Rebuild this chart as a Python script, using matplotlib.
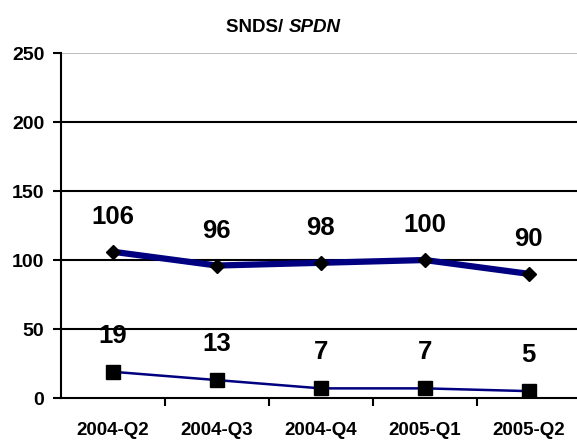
import matplotlib
matplotlib.use("Agg")
import matplotlib.pyplot as plt

categories = ["2004-Q2", "2004-Q3", "2004-Q4", "2005-Q1", "2005-Q2"]
upper_values = [106, 96, 98, 100, 90]
lower_values = [19, 13, 7, 7, 5]
yticks = [0, 50, 100, 150, 200, 250]

plt.rcParams['font.family'] = ['Liberation Sans', 'DejaVu Sans']

fig = plt.figure(figsize=(5.77, 4.42), dpi=100)
ax = fig.add_axes([0.1057, 0.0995, 0.9005, 0.7805])

x = list(range(len(categories)))

for yv in [50, 100, 150, 200]:
    ax.axhline(yv, color='black', lw=1.5, zorder=1)
ax.axhline(250, color='#c0c0c0', lw=1.5, zorder=1)

ax.plot(x, upper_values, color='#000080', lw=4.5, marker='D', ms=7,
        mfc='black', mec='black', zorder=3)
ax.plot(x, lower_values, color='#000080', lw=1.8, marker='s', ms=10,
        mfc='black', mec='black', zorder=3)

for xi, v in zip(x, upper_values):
    ax.annotate(str(v), (xi, v), xytext=(0, 25), textcoords='offset points',
                ha='center', va='center', fontsize=18.5, fontweight='bold')
for xi, v in zip(x, lower_values):
    ax.annotate(str(v), (xi, v), xytext=(0, 26), textcoords='offset points',
                ha='center', va='center', fontsize=18.5, fontweight='bold')

ax.set_xlim(-0.5, len(categories) - 0.5)
ax.set_ylim(0, 250)
ax.set_yticks(yticks)
ax.set_yticklabels([str(t) for t in yticks], fontsize=14, fontweight='bold')

ax.set_xticks(x)
ax.set_xticklabels(categories, fontsize=13.5, fontweight='bold')
ax.tick_params(axis='x', which='major', length=0, pad=17)
ax.set_xticks([i + 0.5 for i in x[:-1]], minor=True)
ax.tick_params(axis='x', which='minor', length=6, width=1.5, direction='out')
ax.tick_params(axis='y', length=6, width=1.5, direction='out', pad=6)

for s in ['top', 'right']:
    ax.spines[s].set_visible(False)
ax.spines['left'].set_linewidth(1.5)
ax.spines['bottom'].set_linewidth(1.5)

fig.text(0.5, 0.938, "SNDS/ ", ha='right', va='center', fontsize=13.5, fontweight='bold')
fig.text(0.5, 0.938, "SPDN", ha='left', va='center', fontsize=13.5, fontweight='bold', style='italic')

fig.savefig("out.png", dpi=100)
